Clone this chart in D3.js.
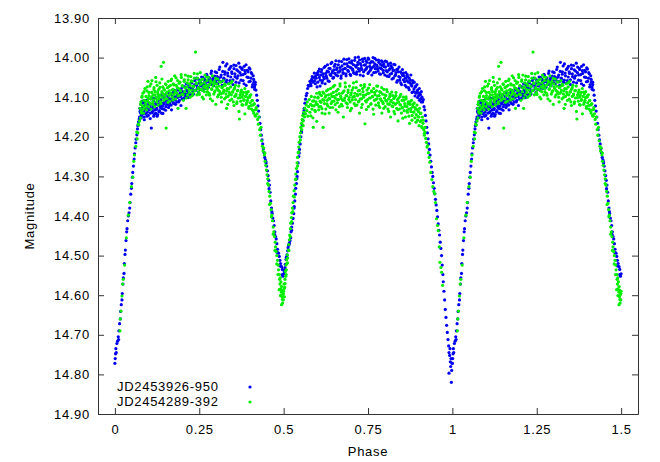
<!DOCTYPE html>
<html>
<head>
<meta charset="utf-8">
<script src="https://cdn.jsdelivr.net/npm/d3@7"></script>
<style>
  body { margin: 0; background: #fff; }
  text { font-family: "Liberation Sans", Arial, sans-serif; font-size: 13px; letter-spacing: 0.7px; fill: #000; }
</style>
</head>
<body>
<svg id="chart" width="660" height="462"></svg>
<script>
// Size of the svg and the plot box inside it
const w = 660;
const h = 462;
const margin = { top: 18, right: 22, bottom: 48, left: 98 };

// Tick values of both axes
const xTicks = [0, 0.25, 0.5, 0.75, 1, 1.25, 1.5];
const yTicks = [13.9, 14.0, 14.1, 14.2, 14.3, 14.4, 14.5, 14.6, 14.7, 14.8, 14.9];

// Legend names of the two runs
const seriesNames = ["JD2453926-950", "JD2454289-392"];

// ---- JD2453926-950 (blue) : [phase, magnitude] ----
const bluePrimaryEgress = [
  [0.000,14.772],[0.001,14.760],[0.002,14.748],[0.003,14.735],[0.004,14.745],[0.006,14.722],[0.008,14.716],
  [0.010,14.705],[0.011,14.712],[0.012,14.690],[0.014,14.672],[0.016,14.660],[0.017,14.641],[0.019,14.624],
  [0.021,14.612],[0.022,14.596],[0.024,14.572],[0.025,14.556],[0.027,14.545],[0.028,14.520],[0.030,14.497],
  [0.031,14.486],[0.033,14.462],[0.035,14.440],[0.036,14.432],[0.038,14.412],[0.040,14.400],[0.042,14.392],
  [0.044,14.380],[0.045,14.366],[0.047,14.345],[0.049,14.330],[0.050,14.318],[0.052,14.302],[0.053,14.290],
  [0.055,14.274],[0.057,14.256],[0.058,14.243],[0.060,14.228],[0.062,14.215],[0.063,14.206],[0.065,14.195],
  [0.067,14.180],[0.068,14.172],[0.070,14.162],[0.072,14.155]
];
const blueMaxI = [
  [0.073,14.150],[0.074,14.128],[0.076,14.140],[0.077,14.118],[0.079,14.146],[0.080,14.132],[0.081,14.110],
  [0.083,14.142],[0.084,14.124],[0.086,14.136],[0.087,14.150],[0.088,14.115],[0.090,14.130],[0.091,14.142],
  [0.093,14.120],[0.094,14.108],[0.096,14.138],[0.097,14.126],[0.099,14.146],[0.100,14.114],[0.102,14.132],
  [0.103,14.122],[0.105,14.140],[0.106,14.104],[0.108,14.178],[0.109,14.128],[0.111,14.118],[0.112,14.136],
  [0.114,14.110],[0.115,14.148],[0.117,14.124],[0.118,14.132],[0.120,14.102],[0.121,14.140],[0.123,14.118],
  [0.124,14.128],[0.126,14.110],[0.127,14.144],[0.129,14.120],[0.130,14.098],[0.132,14.134],[0.133,14.116],
  [0.135,14.126],[0.136,14.106],[0.138,14.140],[0.139,14.114],[0.141,14.122],[0.143,14.100],[0.145,14.130],
  [0.147,14.112],[0.149,14.094],[0.151,14.124],[0.153,14.108],[0.155,14.118],[0.157,14.098],[0.159,14.126],
  [0.161,14.104],[0.163,14.114],[0.165,14.092],[0.167,14.120],[0.169,14.102],[0.171,14.110],[0.173,14.088],
  [0.175,14.116],[0.177,14.098],[0.179,14.106],[0.181,14.086],[0.183,14.112],[0.185,14.094],[0.187,14.100],
  [0.189,14.082],[0.191,14.108],[0.193,14.090],[0.195,14.098],[0.197,14.078],[0.199,14.104],[0.201,14.086],
  [0.204,14.094],[0.207,14.074],[0.210,14.098],[0.213,14.082],[0.216,14.090],[0.219,14.070],[0.222,14.092],
  [0.225,14.078],[0.228,14.064],[0.231,14.086],[0.234,14.072],[0.237,14.058],[0.240,14.082],[0.243,14.068],
  [0.246,14.076],[0.249,14.056],[0.252,14.080],[0.255,14.064],[0.258,14.072],[0.261,14.050],[0.264,14.076],
  [0.267,14.060],[0.270,14.068],[0.273,14.046],[0.276,14.072],[0.279,14.056],[0.282,14.064],[0.285,14.040],
  [0.288,14.068],[0.291,14.052],[0.294,14.060],[0.297,14.036],[0.300,14.064],[0.303,14.048],[0.306,14.056],
  [0.309,14.030],[0.312,14.060],[0.315,14.044],[0.318,14.070],[0.320,14.012],[0.323,14.052],[0.326,14.036],
  [0.329,14.062],[0.332,14.016],[0.335,14.046],[0.338,14.030],[0.341,14.058],[0.344,14.022],[0.347,14.040],
  [0.350,14.068],[0.353,14.028],[0.356,14.048],[0.359,14.020],[0.362,14.052],[0.365,14.034],[0.368,14.064],
  [0.371,14.024],[0.374,14.044],[0.377,14.030],[0.380,14.058],[0.383,14.022],[0.386,14.040],[0.389,14.070],
  [0.392,14.032],[0.395,14.050],[0.398,14.026],[0.401,14.060],[0.404,14.038],[0.407,14.074],[0.410,14.046],
  [0.412,14.062],[0.414,14.080],[0.416,14.068]
];
const blueMaxIb = [
  [0.0745,14.136],[0.0782,14.152],[0.0815,14.128],[0.0838,14.114],[0.0871,14.157],[0.0893,14.121],[0.0927,14.109],
  [0.0954,14.148],[0.0968,14.133],[0.1012,14.119],[0.1047,14.154],[0.1063,14.127],[0.1098,14.139],[0.1126,14.102],
  [0.1139,14.125],[0.1174,14.143],[0.1208,14.116],[0.1233,14.131],[0.1251,14.148],[0.1289,14.109],[0.1304,14.137],
  [0.1342,14.122],[0.1377,14.094],[0.1396,14.129],[0.1423,14.141],[0.1461,14.117],[0.1488,14.104],[0.1502,14.133],
  [0.1547,14.112],[0.1583,14.089],[0.1611,14.121],[0.1644,14.108],[0.1679,14.132],[0.1702,14.097],[0.1736,14.114],
  [0.1768,14.083],[0.1799,14.118],[0.1834,14.101],[0.1862,14.079],[0.1893,14.112],[0.1925,14.097],[0.1958,14.121],
  [0.1984,14.088],[0.2017,14.072],[0.2049,14.103],[0.2078,14.091],[0.2113,14.066],[0.2146,14.084],[0.2172,14.101],
  [0.2208,14.077],[0.2239,14.093],[0.2264,14.061],[0.2297,14.079],[0.2331,14.092],[0.2358,14.069],[0.2384,14.083],
  [0.2417,14.052],[0.2446,14.074],[0.2478,14.088],[0.2503,14.063],[0.2537,14.071],[0.2569,14.049],[0.2596,14.082],
  [0.2628,14.066],[0.2659,14.055],[0.2684,14.078],[0.2716,14.042],[0.2747,14.061],[0.2779,14.074],[0.2802,14.051],
  [0.2836,14.067],[0.2864,14.034],[0.2893,14.056],[0.2927,14.071],[0.2958,14.047],[0.2984,14.059],[0.3017,14.038],
  [0.3048,14.066],[0.3076,14.052],[0.3109,14.024],[0.3137,14.049],[0.3168,14.061],[0.3194,14.035],[0.3227,14.054],
  [0.3258,14.042],[0.3283,14.021],[0.3316,14.057],[0.3342,14.039],[0.3371,14.065],[0.3405,14.027],[0.3433,14.049],
  [0.3461,14.036],[0.3498,14.056],[0.3524,14.019],[0.3556,14.041],[0.3589,14.062],[0.3613,14.031],[0.3648,14.046],
  [0.3672,14.014],[0.3706,14.038],[0.3737,14.057],[0.3764,14.027],[0.3798,14.043],[0.3826,14.066],[0.3851,14.033],
  [0.3887,14.018],[0.3913,14.049],[0.3946,14.036],[0.3972,14.061],[0.4003,14.029],[0.4031,14.052],[0.4058,14.041],
  [0.4084,14.068],[0.4113,14.055],[0.4139,14.074],[0.4158,14.062]
];
const blueSecondaryIngress = [
  [0.418,14.082],[0.420,14.095],[0.422,14.108],[0.424,14.122],[0.426,14.135],[0.428,14.150],[0.430,14.166],
  [0.432,14.182],[0.434,14.196],[0.436,14.208],[0.438,14.218],[0.440,14.230],[0.442,14.240],[0.444,14.252],
  [0.446,14.258],[0.448,14.266],[0.450,14.274],[0.452,14.286],[0.454,14.298],[0.456,14.310],[0.458,14.322],
  [0.460,14.340],[0.462,14.362],[0.464,14.380],[0.466,14.394],[0.468,14.405],[0.470,14.412],[0.472,14.424],
  [0.474,14.440],[0.476,14.452],[0.478,14.458],[0.480,14.470],[0.482,14.484],[0.485,14.494],[0.487,14.502],
  [0.489,14.512],[0.491,14.520],[0.494,14.528],[0.496,14.535],[0.498,14.552],[0.500,14.546],[0.502,14.540]
];
const blueSecondaryEgress = [
  [0.504,14.530],[0.505,14.522],[0.507,14.510],[0.508,14.505],[0.510,14.498],[0.512,14.488],[0.513,14.480],
  [0.515,14.474],[0.517,14.468],[0.519,14.462],[0.521,14.455],[0.522,14.440],[0.524,14.428],[0.526,14.418],
  [0.528,14.406],[0.530,14.394],[0.531,14.380],[0.533,14.362],[0.535,14.345],[0.536,14.330],[0.538,14.318],
  [0.540,14.300],[0.541,14.288],[0.543,14.266],[0.545,14.250],[0.547,14.232],[0.549,14.218],[0.551,14.200],
  [0.553,14.185],[0.555,14.170],[0.557,14.158],[0.559,14.142],[0.561,14.128],[0.563,14.115],[0.565,14.105],
  [0.567,14.096],[0.569,14.090],[0.571,14.078],[0.573,14.070],[0.575,14.072],[0.578,14.060],[0.580,14.066],
  [0.583,14.055],[0.586,14.060],[0.589,14.050],[0.592,14.058],[0.595,14.046]
];
const blueSecondaryExtra = [
  [0.4472,14.262],[0.4568,14.331],[0.4653,14.389],[0.4735,14.447],[0.4812,14.492],[0.4893,14.526],[0.4957,14.548],
  [0.5027,14.536],[0.5093,14.503],[0.5162,14.471],[0.5236,14.436],[0.5314,14.376],[0.5392,14.306],[0.5463,14.241],
  [0.5528,14.189],[0.5604,14.134]
];
const blueMaxII = [
  [0.598,14.040],[0.601,14.062],[0.603,14.035],[0.606,14.050],[0.608,14.072],[0.611,14.044],[0.613,14.030],
  [0.615,14.058],[0.618,14.048],[0.620,14.025],[0.623,14.066],[0.625,14.040],[0.628,14.052],[0.630,14.018],
  [0.633,14.036],[0.635,14.060],[0.638,14.028],[0.640,14.045],[0.643,14.012],[0.645,14.034],[0.648,14.050],
  [0.650,14.022],[0.652,14.040],[0.655,14.008],[0.657,14.030],[0.660,14.046],[0.662,14.018],[0.665,14.036],
  [0.667,14.025],[0.670,14.052],[0.672,14.010],[0.675,14.030],[0.677,14.040],[0.680,14.016],[0.682,14.028],
  [0.685,14.046],[0.687,14.005],[0.690,14.022],[0.692,14.035],[0.695,14.012],[0.697,14.042],[0.700,14.026],
  [0.702,14.008],[0.705,14.032],[0.707,14.018],[0.710,14.040],[0.712,14.000],[0.715,14.024],[0.717,14.036],
  [0.720,14.012],[0.722,14.028],[0.725,14.006],[0.727,14.044],[0.730,14.020],[0.732,14.030],[0.735,14.010],
  [0.737,14.036],[0.740,14.002],[0.742,14.018],[0.745,14.028],[0.747,14.012],[0.750,14.040],[0.752,14.004],
  [0.755,14.022],[0.757,14.032],[0.760,14.010],[0.762,14.026],[0.765,14.000],[0.767,14.038],[0.770,14.016],
  [0.772,14.028],[0.775,14.006],[0.777,14.022],[0.780,14.034],[0.782,14.012],[0.785,14.026],[0.787,14.042],
  [0.790,14.008],[0.792,14.020],[0.795,14.032],[0.797,14.016],[0.800,14.044],[0.802,14.024],[0.805,14.010],
  [0.807,14.036],[0.810,14.020],[0.812,14.048],[0.815,14.028],[0.817,14.014],[0.820,14.040],[0.822,14.026],
  [0.825,14.052],[0.827,14.032],[0.830,14.018],[0.832,14.044],[0.835,14.030],[0.837,14.058],[0.840,14.036],
  [0.842,14.024],[0.845,14.050],[0.847,14.064],[0.850,14.040],[0.852,14.030],[0.855,14.056],[0.857,14.046],
  [0.860,14.070],[0.862,14.038],[0.865,14.058],[0.867,14.048],[0.870,14.076],[0.872,14.052],[0.875,14.064],
  [0.877,14.044],[0.880,14.072],[0.882,14.058],[0.885,14.086],[0.887,14.062],[0.890,14.074],[0.892,14.090],
  [0.895,14.068],[0.897,14.082],[0.900,14.096],[0.902,14.078],[0.904,14.092],[0.906,14.104],[0.908,14.086]
];
const blueMaxIIb = [
  [0.5812,14.071],[0.5846,14.048],[0.5873,14.062],[0.5907,14.039],[0.5938,14.066],[0.5964,14.052],[0.5991,14.074],
  [0.6027,14.043],[0.6058,14.029],[0.6083,14.057],[0.6116,14.036],[0.6142,14.064],[0.6175,14.041],[0.6203,14.053],
  [0.6231,14.022],[0.6264,14.047],[0.6289,14.034],[0.6318,14.059],[0.6347,14.027],[0.6376,14.043],[0.6402,14.015],
  [0.6438,14.038],[0.6461,14.052],[0.6493,14.031],[0.6526,14.017],[0.6554,14.044],[0.6581,14.026],[0.6612,14.037],
  [0.6643,14.009],[0.6671,14.033],[0.6704,14.046],[0.6729,14.021],[0.6758,14.038],[0.6786,14.004],[0.6817,14.027],
  [0.6846,14.041],[0.6873,14.016],[0.6902,14.032],[0.6934,14.003],[0.6961,14.024],[0.6987,14.045],[0.7018,14.014],
  [0.7046,14.029],[0.7073,14.038],[0.7105,14.007],[0.7132,14.021],[0.7161,14.042],[0.7189,14.018],[0.7214,13.999],
  [0.7246,14.034],[0.7273,14.015],[0.7304,14.027],[0.7332,14.004],[0.7358,14.046],[0.7391,14.019],[0.7417,14.031],
  [0.7446,14.008],[0.7472,14.024],[0.7504,14.001],[0.7531,14.036],[0.7559,14.014],[0.7588,14.027],[0.7613,14.044],
  [0.7647,14.011],[0.7671,14.022],[0.7703,14.002],[0.7728,14.037],[0.7756,14.019],[0.7784,14.029],[0.7812,14.006],
  [0.7843,14.041],[0.7869,14.017],[0.7896,14.028],[0.7928,14.011],[0.7954,14.038],[0.7982,14.023],[0.8013,14.009],
  [0.8041,14.033],[0.8067,14.047],[0.8098,14.016],[0.8124,14.031],[0.8153,14.042],[0.8186,14.021],[0.8212,14.054],
  [0.8241,14.033],[0.8269,14.017],[0.8297,14.046],[0.8326,14.038],[0.8354,14.062],[0.8381,14.029],[0.8413,14.048],
  [0.8438,14.057],[0.8467,14.036],[0.8495,14.068],[0.8524,14.045],[0.8551,14.039],[0.8583,14.061],[0.8609,14.052],
  [0.8637,14.074],[0.8664,14.043],[0.8696,14.062],[0.8721,14.081],[0.8749,14.057],[0.8778,14.069],[0.8806,14.088],
  [0.8831,14.064],[0.8862,14.079],[0.8894,14.097],[0.8918,14.072],[0.8943,14.086],[0.8971,14.101],[0.8998,14.089],
  [0.9026,14.108],[0.9052,14.094],[0.9079,14.112]
];
const bluePrimaryIngress = [
  [0.910,14.100],[0.912,14.112],[0.914,14.106],[0.916,14.124],[0.918,14.132],[0.920,14.146],[0.922,14.160],
  [0.924,14.176],[0.926,14.190],[0.928,14.205],[0.930,14.218],[0.932,14.232],[0.934,14.246],[0.936,14.262],
  [0.938,14.276],[0.940,14.290],[0.942,14.300],[0.944,14.316],[0.946,14.330],[0.948,14.344],[0.950,14.358],
  [0.952,14.372],[0.954,14.386],[0.956,14.402],[0.958,14.420],[0.960,14.436],[0.962,14.448],[0.964,14.466],
  [0.966,14.482],[0.968,14.500],[0.970,14.524],[0.972,14.548],[0.973,14.566],[0.975,14.590],[0.977,14.612],
  [0.979,14.636],[0.981,14.656],[0.983,14.676],[0.985,14.694],[0.987,14.712],[0.989,14.728],[0.990,14.745],
  [0.990,14.797],[0.992,14.752],[0.993,14.735],[0.994,14.768],[0.995,14.780],[0.996,14.760],[0.997,14.820],
  [0.998,14.790],[0.999,14.772]
];

// ---- JD2454289-392 (green) : [phase, magnitude] ----
const greenPrimaryEgress = [
  [0.015,14.690],[0.016,14.660],[0.018,14.640],[0.021,14.602],[0.023,14.572],[0.025,14.560],[0.029,14.524],
  [0.034,14.455],[0.040,14.398],[0.044,14.366],[0.049,14.326],[0.053,14.302],[0.056,14.262],[0.058,14.246],
  [0.062,14.224],[0.065,14.188],[0.066,14.205],[0.068,14.190],[0.069,14.168],[0.071,14.170],[0.073,14.160]
];
const greenMaxI = [
  [0.075,14.128],[0.076,14.152],[0.077,14.112],[0.078,14.136],[0.079,14.140],[0.080,14.100],[0.082,14.122],
  [0.083,14.090],[0.085,14.140],[0.086,14.108],[0.088,14.126],[0.089,14.078],[0.091,14.116],[0.092,14.098],
  [0.094,14.132],[0.095,14.084],[0.097,14.110],[0.098,14.060],[0.100,14.124],[0.101,14.096],[0.103,14.114],
  [0.104,14.072],[0.106,14.104],[0.107,14.130],[0.109,14.088],[0.110,14.058],[0.112,14.118],[0.113,14.094],
  [0.115,14.106],[0.116,14.076],[0.118,14.124],[0.119,14.086],[0.121,14.050],[0.122,14.100],[0.124,14.112],
  [0.125,14.070],[0.127,14.092],[0.128,14.120],[0.130,14.080],[0.131,14.104],[0.133,14.064],[0.134,14.094],
  [0.136,14.116],[0.137,14.022],[0.139,14.086],[0.140,14.100],[0.142,14.074],[0.144,14.012],[0.145,14.108],
  [0.147,14.082],[0.148,14.096],[0.150,14.066],[0.152,14.178],[0.153,14.090],[0.155,14.104],[0.156,14.076],
  [0.158,14.060],[0.160,14.096],[0.161,14.084],[0.163,14.110],[0.165,14.070],[0.166,14.090],[0.168,14.054],
  [0.170,14.100],[0.172,14.080],[0.173,14.066],[0.175,14.094],[0.177,14.046],[0.179,14.084],[0.180,14.104],
  [0.182,14.070],[0.184,14.090],[0.186,14.058],[0.187,14.128],[0.189,14.078],[0.191,14.096],[0.193,14.062],
  [0.195,14.084],[0.197,14.050],[0.199,14.092],[0.201,14.072],[0.203,14.108],[0.205,14.060],[0.207,14.086],
  [0.209,14.044],[0.211,14.128],[0.213,14.074],[0.215,14.094],[0.217,14.056],[0.219,14.080],[0.221,14.066],
  [0.223,14.100],[0.225,14.048],[0.227,14.082],[0.229,14.060],[0.231,14.090],[0.233,14.072],[0.235,14.040],
  [0.237,14.084],[0.239,13.986],[0.241,14.064],[0.243,14.094],[0.245,14.052],[0.247,14.076],[0.249,14.088],
  [0.251,14.060],[0.253,14.038],[0.255,14.080],[0.257,14.066],[0.259,14.100],[0.261,14.054],[0.263,14.074],
  [0.265,14.086],[0.267,14.044],[0.269,14.070],[0.271,14.094],[0.273,14.058],[0.275,14.078],[0.277,14.050],
  [0.279,14.090],[0.281,14.068],[0.283,14.104],[0.285,14.062],[0.287,14.080],[0.289,14.046],[0.291,14.072],
  [0.293,14.092],[0.295,14.060],[0.297,14.084],[0.299,14.118],[0.301,14.066],[0.303,14.078],[0.305,14.054],
  [0.307,14.094],[0.309,14.072],[0.311,14.086],[0.313,14.062],[0.315,14.100],[0.317,14.076],[0.319,14.090],
  [0.321,14.058],[0.323,14.082],[0.325,14.104],[0.327,14.070],[0.329,14.092],[0.331,14.128],[0.333,14.078],
  [0.335,14.098],[0.337,14.066],[0.339,14.088],[0.341,14.108],[0.343,14.074],[0.345,14.094],[0.347,14.060],
  [0.349,14.086],[0.351,14.112],[0.353,14.080],[0.355,14.098],[0.357,14.070],[0.359,14.092],[0.361,14.116],
  [0.363,14.084],[0.365,14.102],[0.367,14.072],[0.369,14.155],[0.371,14.094],[0.373,14.110],[0.375,14.082],
  [0.377,14.100],[0.379,14.120],[0.381,14.088],[0.383,14.106],[0.385,14.078],[0.387,14.098],[0.389,14.118],
  [0.391,14.092],[0.393,14.108],[0.395,14.086],[0.397,14.124],[0.399,14.100],[0.401,14.114],[0.403,14.094],
  [0.405,14.130],[0.407,14.108],[0.409,14.120],[0.411,14.140],[0.413,14.116],[0.415,14.132],[0.417,14.148],
  [0.419,14.126],[0.421,14.142]
];
const greenMaxIb = [
  [0.0763,14.118],[0.0806,14.097],[0.0834,14.131],[0.0867,14.086],[0.0898,14.109],[0.0921,14.122],[0.0957,14.074],
  [0.0986,14.103],[0.1009,14.088],[0.1042,14.117],[0.1068,14.066],[0.1093,14.099],[0.1124,14.112],[0.1158,14.081],
  [0.1183,14.094],[0.1219,14.061],[0.1247,14.107],[0.1272,14.086],[0.1306,14.098],[0.1338,14.075],[0.1362,14.112],
  [0.1394,14.054],[0.1428,14.091],[0.1453,14.079],[0.1487,14.104],[0.1513,14.068],[0.1541,14.087],[0.1576,14.113],
  [0.1602,14.073],[0.1634,14.094],[0.1661,14.058],[0.1693,14.082],[0.1724,14.107],[0.1752,14.069],[0.1781,14.088],
  [0.1813,14.051],[0.1847,14.076],[0.1871,14.097],[0.1904,14.065],[0.1936,14.083],[0.1963,14.043],[0.1992,14.071],
  [0.2024,14.094],[0.2057,14.056],[0.2083,14.077],[0.2116,14.102],[0.2143,14.064],[0.2174,14.047],[0.2206,14.088],
  [0.2232,14.071],[0.2268,14.059],[0.2294,14.096],[0.2325,14.074],[0.2356,14.052],[0.2383,14.083],[0.2412,14.066],
  [0.2448,14.041],[0.2474,14.079],[0.2507,14.093],[0.2532,14.068],[0.2564,14.056],[0.2591,14.082],[0.2623,14.104],
  [0.2655,14.063],[0.2681,14.077],[0.2713,14.049],[0.2742,14.086],[0.2774,14.071],[0.2806,14.095],[0.2833,14.058],
  [0.2867,14.079],[0.2892,14.109],[0.2924,14.066],[0.2953,14.087],[0.2987,14.052],[0.3014,14.074],[0.3043,14.099],
  [0.3071,14.083],[0.3104,14.061],[0.3132,14.091],[0.3163,14.112],[0.3196,14.073],[0.3222,14.086],[0.3254,14.067],
  [0.3287,14.101],[0.3312,14.084],[0.3346,14.118],[0.3374,14.079],[0.3402,14.093],[0.3436,14.064],[0.3463,14.105],
  [0.3492,14.087],[0.3528,14.121],[0.3551,14.076],[0.3582,14.096],[0.3617,14.112],[0.3644,14.083],[0.3676,14.136],
  [0.3703,14.101],[0.3731,14.088],[0.3766,14.119],[0.3792,14.094],[0.3821,14.108],[0.3853,14.142],[0.3884,14.087],
  [0.3912,14.113],[0.3941,14.101],[0.3973,14.128],[0.4004,14.096],[0.4036,14.121],[0.4067,14.109],[0.4093,14.134],
  [0.4125,14.118],[0.4154,14.146],[0.4187,14.131]
];
const greenSecondaryIngress = [
  [0.423,14.156],[0.425,14.168],[0.427,14.150],[0.429,14.182],[0.431,14.196],[0.433,14.176],[0.435,14.210],
  [0.437,14.224],[0.439,14.236],[0.441,14.228],[0.443,14.246],[0.445,14.262],[0.447,14.272],[0.449,14.284],
  [0.451,14.296],[0.453,14.306],[0.455,14.322],[0.457,14.338],[0.459,14.350],[0.461,14.368],[0.463,14.384],
  [0.465,14.398],[0.467,14.412],[0.469,14.428],[0.471,14.440],[0.473,14.452],[0.475,14.466],[0.476,14.478],
  [0.478,14.490],[0.480,14.500],[0.482,14.512],[0.484,14.524],[0.485,14.536],[0.487,14.548],[0.488,14.560],
  [0.489,14.572],[0.490,14.556],[0.491,14.584],[0.492,14.566],[0.493,14.592],[0.494,14.578],[0.495,14.604],
  [0.496,14.588],[0.497,14.620],[0.498,14.598],[0.499,14.612],[0.500,14.590],[0.501,14.572],[0.502,14.604],
  [0.503,14.580]
];
const greenSecondaryEgress = [
  [0.504,14.560],[0.505,14.540],[0.506,14.552],[0.507,14.524],[0.508,14.536],[0.509,14.510],[0.510,14.520],
  [0.511,14.498],[0.512,14.506],[0.514,14.486],[0.515,14.472],[0.517,14.460],[0.518,14.448],[0.520,14.432],
  [0.521,14.418],[0.523,14.404],[0.524,14.392],[0.526,14.380],[0.528,14.366],[0.529,14.350],[0.531,14.336],
  [0.533,14.322],[0.535,14.308],[0.536,14.294],[0.538,14.280],[0.540,14.266],[0.541,14.252],[0.543,14.240],
  [0.545,14.226],[0.546,14.214],[0.548,14.200],[0.550,14.190],[0.551,14.176],[0.553,14.166],[0.555,14.156],
  [0.557,14.146],[0.558,14.160],[0.560,14.138],[0.562,14.150],[0.563,14.128],[0.565,14.142],[0.567,14.120],
  [0.569,14.134],[0.570,14.112],[0.572,14.148],[0.574,14.124],[0.576,14.106],[0.578,14.138],[0.580,14.118],
  [0.582,14.098],[0.584,14.130],[0.586,14.110],[0.588,14.176],[0.590,14.122],[0.592,14.100],[0.594,14.136],
  [0.596,14.112],[0.598,14.090]
];
const greenSecondaryExtra = [
  [0.4445,14.241],[0.4526,14.318],[0.4583,14.371],[0.4637,14.402],[0.4691,14.446],[0.4742,14.487],[0.4795,14.521],
  [0.4832,14.548],[0.4868,14.586],[0.4905,14.601],[0.4938,14.624],[0.4962,14.611],[0.4991,14.596],[0.5018,14.583],
  [0.5043,14.571],[0.5076,14.548],[0.5114,14.518],[0.5157,14.487],[0.5196,14.452],[0.5238,14.414],[0.5272,14.389],
  [0.5318,14.352],[0.5367,14.306],[0.5413,14.274],[0.5452,14.238],[0.5496,14.208],[0.5537,14.182],[0.5579,14.172]
];
const greenMaxII = [
  [0.600,14.118],[0.602,14.100],[0.604,14.132],[0.606,14.088],[0.608,14.110],[0.610,14.124],[0.612,14.096],
  [0.614,14.140],[0.616,14.106],[0.617,14.176],[0.619,14.090],[0.621,14.116],[0.623,14.100],[0.625,14.130],
  [0.627,14.084],[0.629,14.108],[0.631,14.122],[0.633,14.094],[0.635,14.140],[0.637,14.104],[0.639,14.078],
  [0.641,14.116],[0.643,14.098],[0.645,14.126],[0.647,14.088],[0.649,14.110],[0.651,14.070],[0.653,14.102],
  [0.655,14.132],[0.657,14.094],[0.659,14.114],[0.661,14.080],[0.663,14.106],[0.665,14.124],[0.667,14.066],
  [0.669,14.098],[0.671,14.118],[0.673,14.090],[0.675,14.108],[0.677,14.150],[0.679,14.084],[0.681,14.102],
  [0.683,14.074],[0.685,14.114],[0.687,14.096],[0.689,14.126],[0.691,14.088],[0.693,14.106],[0.695,14.072],
  [0.697,14.112],[0.699,14.094],[0.701,14.128],[0.703,14.082],[0.705,14.100],[0.707,14.064],[0.709,14.116],
  [0.711,14.090],[0.713,14.106],[0.715,14.076],[0.717,14.120],[0.719,14.096],[0.721,14.084],[0.723,14.110],
  [0.725,14.140],[0.727,14.092],[0.729,14.070],[0.731,14.104],[0.733,14.118],[0.735,14.086],[0.737,14.100],
  [0.739,14.074],[0.741,14.167],[0.743,14.094],[0.745,14.112],[0.747,14.082],[0.749,14.106],[0.751,14.124],
  [0.753,14.090],[0.755,14.068],[0.757,14.102],[0.759,14.116],[0.761,14.086],[0.763,14.098],[0.765,14.130],
  [0.767,14.078],[0.769,14.108],[0.771,14.094],[0.773,14.120],[0.775,14.084],[0.777,14.104],[0.779,14.072],
  [0.781,14.114],[0.783,14.096],[0.785,14.126],[0.787,14.088],[0.789,14.108],[0.791,14.140],[0.793,14.092],
  [0.795,14.116],[0.797,14.080],[0.799,14.102],[0.801,14.124],[0.803,14.096],[0.805,14.110],[0.807,14.086],
  [0.809,14.130],[0.811,14.104],[0.813,14.118],[0.815,14.092],[0.817,14.150],[0.819,14.108],[0.821,14.122],
  [0.823,14.096],[0.825,14.114],[0.827,14.136],[0.829,14.100],[0.831,14.118],[0.833,14.088],[0.835,14.128],
  [0.837,14.106],[0.839,14.160],[0.841,14.112],[0.843,14.130],[0.845,14.098],[0.847,14.120],[0.849,14.140],
  [0.851,14.108],[0.853,14.126],[0.855,14.100],[0.857,14.134],[0.859,14.116],[0.861,14.150],[0.863,14.104],
  [0.865,14.124],[0.867,14.138],[0.869,14.112],[0.871,14.130],[0.873,14.166],[0.875,14.118],[0.877,14.136],
  [0.879,14.108],[0.881,14.146],[0.883,14.124],[0.885,14.138],[0.887,14.114],[0.889,14.152],[0.891,14.130],
  [0.893,14.144],[0.895,14.120],[0.897,14.158],[0.899,14.136],[0.901,14.150],[0.903,14.128],[0.905,14.162],
  [0.907,14.140],[0.909,14.174],[0.911,14.150],[0.913,14.166],[0.915,14.182]
];
const greenMaxIIb = [
  [0.5803,14.147],[0.5838,14.121],[0.5867,14.152],[0.5894,14.109],[0.5926,14.133],[0.5957,14.118],[0.5982,14.161],
  [0.6014,14.102],[0.6047,14.124],[0.6073,14.092],[0.6105,14.113],[0.6137,14.129],[0.6163,14.087],[0.6194,14.108],
  [0.6228,14.142],[0.6253,14.096],[0.6284,14.117],[0.6316,14.081],[0.6342,14.103],[0.6374,14.126],[0.6407,14.092],
  [0.6436,14.111],[0.6462,14.074],[0.6493,14.098],[0.6527,14.119],[0.6554,14.085],[0.6586,14.106],[0.6613,14.138],
  [0.6647,14.091],[0.6672,14.072],[0.6704,14.103],[0.6738,14.122],[0.6763,14.087],[0.6795,14.108],[0.6824,14.064],
  [0.6853,14.096],[0.6886,14.117],[0.6912,14.082],[0.6943,14.101],[0.6976,14.134],[0.7004,14.089],[0.7032,14.107],
  [0.7063,14.076],[0.7094,14.098],[0.7126,14.121],[0.7157,14.061],[0.7183,14.093],[0.7214,14.112],[0.7246,14.083],
  [0.7273,14.104],[0.7305,14.126],[0.7337,14.078],[0.7362,14.095],[0.7396,14.068],[0.7424,14.109],[0.7453,14.131],
  [0.7487,14.091],[0.7514,14.077],[0.7543,14.102],[0.7578,14.118],[0.7603,14.084],[0.7634,14.099],[0.7667,14.143],
  [0.7693,14.088],[0.7725,14.106],[0.7756,14.072],[0.7784,14.097],[0.7815,14.121],[0.7847,14.086],[0.7872,14.104],
  [0.7906,14.076],[0.7934,14.112],[0.7967,14.128],[0.7993,14.094],[0.8026,14.108],[0.8054,14.081],[0.8087,14.117],
  [0.8113,14.136],[0.8146,14.098],[0.8174,14.112],[0.8203,14.087],[0.8235,14.124],[0.8264,14.103],[0.8292,14.142],
  [0.8326,14.096],[0.8357,14.114],[0.8384,14.131],[0.8413,14.102],[0.8447,14.119],[0.8473,14.093],[0.8506,14.127],
  [0.8532,14.153],[0.8564,14.108],[0.8593,14.122],[0.8627,14.099],[0.8653,14.134],[0.8686,14.117],[0.8712,14.148],
  [0.8744,14.112],[0.8771,14.129],[0.8803,14.158],[0.8834,14.118],[0.8862,14.137],[0.8893,14.126],[0.8921,14.163],
  [0.8954,14.131],[0.8982,14.149],[0.9013,14.172],[0.9047,14.141],[0.9073,14.159],[0.9104,14.177],[0.9136,14.158],
  [0.9168,14.191],[0.9193,14.176]
];
const greenPrimaryIngress = [
  [0.917,14.196],[0.919,14.188],[0.921,14.204],[0.923,14.214],[0.925,14.226],[0.927,14.222],[0.929,14.240],
  [0.931,14.252],[0.933,14.264],[0.936,14.290],[0.939,14.308],[0.942,14.326],[0.945,14.338],[0.948,14.344],
  [0.950,14.366],[0.953,14.407],[0.956,14.424],[0.958,14.437],[0.961,14.478],[0.963,14.517],[0.966,14.530],
  [0.968,14.542],[0.971,14.575]
];

const blueData = [].concat(bluePrimaryEgress, blueMaxI, blueMaxIb, blueSecondaryIngress,
  blueSecondaryEgress, blueSecondaryExtra, blueMaxII, blueMaxIIb, bluePrimaryIngress);
const greenData = [].concat(greenPrimaryEgress, greenMaxI, greenMaxIb, greenSecondaryIngress,
  greenSecondaryEgress, greenSecondaryExtra, greenMaxII, greenMaxIIb, greenPrimaryIngress);

// the first half of the cycle is repeated after phase 1
function withRepeat(points) {
  const extra = points.filter(d => d[0] <= 0.5).map(d => [d[0] + 1, d[1]]);
  return points.concat(extra);
}

const series = [
  { name: seriesNames[0], color: "#0000f0", points: withRepeat(blueData) },
  { name: seriesNames[1], color: "#00ee00", points: withRepeat(greenData) }
];

const svg = d3.select("#chart");

const x = d3.scaleLinear().domain([-0.05, 1.55]).range([margin.left, w - margin.right]);
const y = d3.scaleLinear().domain([13.9, 14.9]).range([margin.top, h - margin.bottom]);

// points, blue first so green lies on top
svg.selectAll(".run")
  .data(series)
  .enter()
  .append("g")
  .attr("class", "run")
  .attr("fill", d => d.color)
  .selectAll("circle")
  .data(d => d.points)
  .enter()
  .append("circle")
  .attr("cx", d => x(d[0]))
  .attr("cy", d => y(d[1]))
  .attr("r", 1.6);

// axes with inward ticks on all four sides
const axisColor = "#333";

const axisB = svg.append("g")
  .attr("transform", `translate(0,${h - margin.bottom})`)
  .call(d3.axisBottom(x).tickValues(xTicks).tickFormat(d => String(d))
    .tickSizeInner(-6).tickSizeOuter(0).tickPadding(11));

const axisL = svg.append("g")
  .attr("transform", `translate(${margin.left},0)`)
  .call(d3.axisLeft(y).tickValues(yTicks).tickFormat(d => d.toFixed(2))
    .tickSizeInner(-6).tickSizeOuter(0).tickPadding(8));

const axisT = svg.append("g")
  .attr("transform", `translate(0,${margin.top})`)
  .call(d3.axisTop(x).tickValues(xTicks).tickFormat("")
    .tickSizeInner(-6).tickSizeOuter(0));

const axisR = svg.append("g")
  .attr("transform", `translate(${w - margin.right},0)`)
  .call(d3.axisRight(y).tickValues(yTicks).tickFormat("")
    .tickSizeInner(-6).tickSizeOuter(0));

[axisB, axisL, axisT, axisR].forEach(g => {
  g.attr("font-family", null).attr("font-size", null);
  g.selectAll("path, line").attr("stroke", axisColor);
  g.selectAll("text").attr("fill", "#000");
});

// axis titles
svg.append("text")
  .attr("x", x(0.75))
  .attr("y", 456)
  .attr("text-anchor", "middle")
  .text("Phase");

svg.append("text")
  .attr("transform", `translate(34,${(margin.top + h - margin.bottom) / 2}) rotate(-90)`)
  .attr("text-anchor", "middle")
  .text("Magnitude");

// legend in the lower left corner
const legend = svg.selectAll(".key")
  .data(series)
  .enter()
  .append("g")
  .attr("class", "key")
  .attr("transform", (d, i) => `translate(0,${391 + i * 15})`);

legend.append("text")
  .attr("x", 117)
  .attr("y", 0)
  .text(d => d.name);

legend.append("circle")
  .attr("cx", 250)
  .attr("cy", -4)
  .attr("r", 1.6)
  .attr("fill", d => d.color);
</script>
</body>
</html>
